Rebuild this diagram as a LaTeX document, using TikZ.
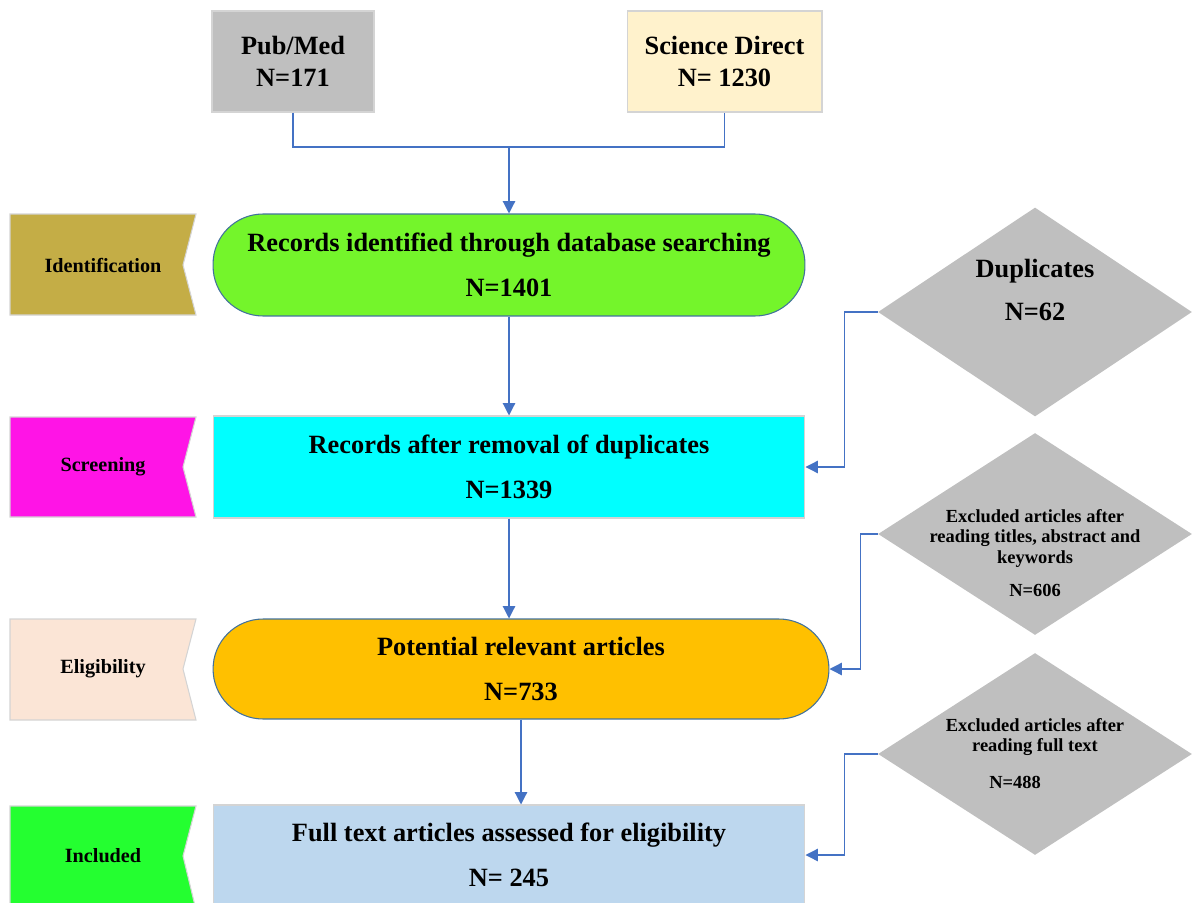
\documentclass[tikz,border=0pt]{standalone}
\usepackage{fontspec}
\setmainfont{Liberation Serif}
\usetikzlibrary{arrows.meta,shapes.geometric}

\definecolor{identcol}{HTML}{C4AD46}
\definecolor{screencol}{HTML}{FF14E6}
\definecolor{eligcol}{HTML}{FBE5D6}
\definecolor{inclcol}{HTML}{24FF30}
\definecolor{greencol}{HTML}{74F52B}
\definecolor{cyancol}{HTML}{00FFFF}
\definecolor{orangecol}{HTML}{FFC000}
\definecolor{bluecol}{HTML}{BDD7EE}
\definecolor{graycol}{HTML}{BFBFBF}
\definecolor{creamcol}{HTML}{FFF2CC}
\definecolor{linecol}{HTML}{4472C4}
\definecolor{edgecol}{HTML}{D4D4D4}
\definecolor{stadcol}{HTML}{41719C}

\begin{document}
\begin{tikzpicture}[x=0.02cm,y=-0.02cm,
	box/.style={draw=edgecol, line width=0.6pt, inner sep=0pt, align=center,
		minimum width=11.84cm, minimum height=2.04cm,
		font=\bfseries\fontsize{15}{25.5}\selectfont},
	stadium/.style={box, draw=stadcol, rounded corners=1.0cm},
	dbase/.style={box, minimum height=2.02cm, font=\bfseries\fontsize{15}{18}\selectfont},
	tag/.style={draw=edgecol, line width=0.6pt},
	tagtext/.style={font=\bfseries\fontsize{11.5}{14}\selectfont},
	excl/.style={diamond, fill=graycol, inner sep=0pt, minimum width=6.28cm},
	bigtext/.style={align=center, font=\bfseries\fontsize{15}{24.5}\selectfont},
	smalltext/.style={align=center, font=\bfseries\fontsize{10.5}{11.8}\selectfont},
	conn/.style={draw=linecol, line width=0.7pt},
	arr/.style={conn, -{Triangle[length=7pt,width=7pt]}}]

	\useasboundingbox (0,0) rectangle (1192,902);
	\clip (0,0) rectangle (1192,902);

	% database boxes
	\node[dbase, fill=graycol, minimum width=3.24cm] (pubmed) at (293,61.5) {Pub/Med\\N=171};
	\node[dbase, fill=creamcol, minimum width=3.9cm] (scidir) at (724.5,61.5) {Science Direct\\N= 1230};
	\coordinate (joint) at (509,147);

	% stage tags
	\draw[tag, fill=identcol] (10,214) -- (196,214) -- (183,265) -- (196,315) -- (10,315) -- cycle;
	\draw[tag, fill=screencol] (10,417) -- (196,417) -- (183,467) -- (196,517) -- (10,517) -- cycle;
	\draw[tag, fill=eligcol] (10,619) -- (196,619) -- (183,669) -- (196,720) -- (10,720) -- cycle;
	\draw[tag, fill=inclcol] (10,806) -- (196,806) -- (183,856) -- (196,910) -- (10,910) -- cycle;
	\node[tagtext] (ident) at (103,265) {Identification};
	\node[tagtext] (screen) at (103,467) {Screening};
	\node[tagtext] (elig) at (103,669) {Eligibility};
	\node[tagtext] (incl) at (103,856) {Included};

	% main flow
	\node[stadium, fill=greencol] (records) at (509,265) {Records identified through database searching\\N=1401};
	\node[box, fill=cyancol] (nodup) at (509,467) {Records after removal of duplicates\\N=1339};
	\node[stadium, fill=orangecol, minimum width=12.32cm, minimum height=2.0cm] (relevant) at (521,669) {Potential relevant articles\\N=733};
	\node[box, fill=bluecol, minimum height=2.0cm] (fulltext) at (509,855) {Full text articles assessed for eligibility\\N= 245};

	% exclusions
	\node[excl, minimum height=4.18cm] (dup) at (1035,312) {};
	\node[excl, minimum height=4.04cm] (excl1) at (1035,534) {};
	\node[excl, minimum height=4.04cm] (excl2) at (1035,754) {};
	\node[bigtext] (duptext) at (1035,290) {Duplicates\\N=62};
	\node[smalltext] (excl1text) at (1035,553) {Excluded articles after\\reading titles, abstract and\\keywords\\[7pt]N=606};
	\node[smalltext] (excl2text) at (1035,737) {Excluded articles after\\reading full text};
	\node[smalltext] (excl2num) at (1015,782) {N=488};

	% connectors
	\draw[conn] (pubmed.south) |- (joint) -| (scidir.south);
	\draw[arr] (joint) -- (records.north);
	\draw[arr] (records.south) -- (nodup.north);
	\draw[arr] (nodup.south) -- (nodup.south |- relevant.north);
	\draw[arr] (relevant.south) -- (relevant.south |- fulltext.north);
	\draw[arr] (dup.west) -- ++(-33,0) |- (nodup.east);
	\draw[arr] (excl1.west) -- ++(-17,0) |- (relevant.east);
	\draw[arr] (excl2.west) -- ++(-33,0) |- (fulltext.east);

\end{tikzpicture}
\end{document}
